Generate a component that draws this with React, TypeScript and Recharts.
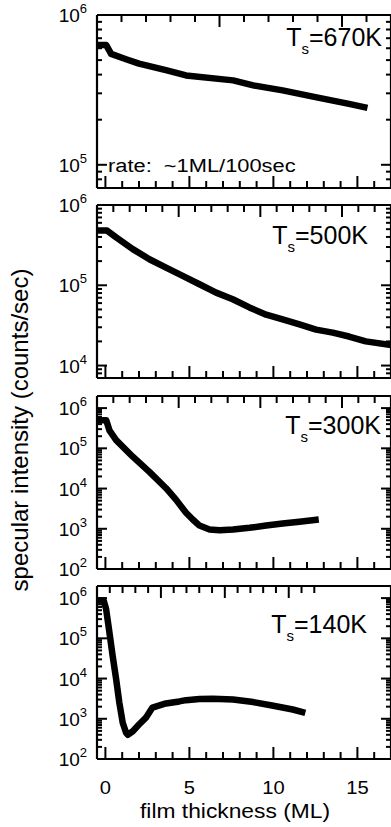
import React from "react";
import { LineChart, Line, XAxis, YAxis } from "recharts";

// film thickness (ML) and specular intensity (counts/sec)
const thk670 = [-0.5, 0.05, 0.34, 1.23, 2.0, 3.6, 4.8, 7.6, 8.8, 10.55, 12.5, 14.5, 15.6];
const int670 = [6.3e5, 6.3e5, 5.5e5, 5.07e5, 4.74e5, 4.28e5, 3.95e5, 3.66e5, 3.39e5, 3.14e5, 2.83e5, 2.55e5, 2.4e5];

const thk500 = [-0.5, 0.1, 0.64, 1.63, 2.62, 3.61, 4.6, 5.6, 6.59, 7.58, 8.57, 9.57, 10.55, 11.55, 12.54, 13.53, 14.5, 15.5, 17];
const int500 = [4.8e5, 4.8e5, 3.95e5, 2.82e5, 2.11e5, 1.66e5, 1.31e5, 1.03e5, 8.1e4, 6.7e4, 5.3e4, 4.3e4, 3.76e4, 3.25e4, 2.8e4, 2.57e4, 2.3e4, 2.0e4, 1.8e4];

const thk300 = [-0.5, 0.05, 0.24, 0.64, 1.63, 2.62, 3.61, 4.2, 4.8, 5.2, 5.6, 6.2, 6.8, 7.6, 8.57, 9.57, 10.55, 11.55, 12.7];
const int300 = [5e5, 5e5, 2.8e5, 1.6e5, 6.2e4, 2.6e4, 1.02e4, 5.3e3, 2.5e3, 1.7e3, 1.2e3, 960, 925, 960, 1.06e3, 1.2e3, 1.35e3, 1.5e3, 1.7e3];

const thk140 = [-0.5, -0.1, 0.04, 0.24, 0.43, 0.64, 0.83, 1.03, 1.23, 1.33, 1.63, 2.0, 2.4, 2.8, 3.6, 4.4, 4.8, 5.6, 6.4, 7.6, 8.8, 10, 11.15, 11.9];
const int140 = [8.7e5, 8.7e5, 5.4e5, 1.4e5, 3.7e4, 9.6e3, 2.5e3, 800, 450, 400, 490, 720, 1.05e3, 1.9e3, 2.4e3, 2.7e3, 2.9e3, 3.1e3, 3.15e3, 3.0e3, 2.6e3, 2.1e3, 1.7e3, 1.4e3];

const tempLabels = ["670K", "500K", "300K", "140K"];
const yDomains: [number, number][] = [[7e4, 1e6], [7e3, 1e6], [100, 2e6], [100, 2e6]];
const xTicks = [0, 1, 2, 3, 4, 5, 6, 7, 8, 9, 10, 11, 12, 13, 14, 15, 16, 17];
const xMajor = [0, 5, 10, 15];

const series = [
  [thk670, int670],
  [thk500, int500],
  [thk300, int300],
  [thk140, int140],
];

// layout
const FONT = "'Liberation Sans', Arial, Helvetica, sans-serif";
const PLOT_LEFT = 97;
const tops = [15, 205, 396, 586];
const bottoms = [188, 378, 569, 759];
const labelPos = [
  { x: 382, y: 46 },
  { x: 368, y: 244 },
  { x: 381, y: 434 },
  { x: 367, y: 633 },
];

function logTicks([lo, hi]: [number, number]) {
  const out: number[] = [];
  for (let d = Math.floor(Math.log10(lo)); d <= Math.ceil(Math.log10(hi)); d++) {
    for (let m = 1; m <= 9; m++) {
      const v = m * Math.pow(10, d);
      if (v >= lo && v <= hi) out.push(v);
    }
  }
  return out;
}

const isDecade = (v: number) => Math.abs(Math.log10(v) - Math.round(Math.log10(v))) < 1e-9;

function LeftTick(props: any) {
  const { y, payload } = props;
  const v = payload.value;
  const major = isDecade(v);
  return (
    <g>
      <line x1={PLOT_LEFT} x2={PLOT_LEFT + (major ? 10 : 5)} y1={y} y2={y} stroke="#000" strokeWidth={2} />
      {major && (
        <text x={PLOT_LEFT - 10} y={y + 7} textAnchor="end" fontSize={19} fontFamily={FONT} fill="#000">
          10
          <tspan dy={-9} fontSize={13}>
            {Math.round(Math.log10(v))}
          </tspan>
        </text>
      )}
    </g>
  );
}

function RightTick(props: any) {
  const { x, y, payload } = props;
  const major = isDecade(payload.value);
  return <line x1={x} x2={x - (major ? 10 : 5)} y1={y} y2={y} stroke="#000" strokeWidth={2} />;
}

function TopTick(props: any) {
  const { x, y, payload } = props;
  const major = xMajor.includes(payload.value);
  return <line x1={x} x2={x} y1={y} y2={y + (major ? 12 : 7)} stroke="#000" strokeWidth={2} />;
}

function BottomTick(props: any) {
  const { x, y, payload, showLabel } = props;
  const major = xMajor.includes(payload.value);
  return (
    <g>
      <line x1={x} x2={x} y1={y} y2={y - (major ? 12 : 7)} stroke="#000" strokeWidth={2} />
      {showLabel && major && (
        <text
          transform={`translate(${x},${y + 35}) scale(1.12,1)`}
          textAnchor="middle"
          fontSize={18}
          fontFamily={FONT}
          fill="#000"
        >
          {payload.value}
        </text>
      )}
    </g>
  );
}

function Panel({ i }: { i: number }) {
  const [thk, inten] = series[i];
  const data = thk.map((t, k) => ({ x: t, y: inten[k] }));
  const h = bottoms[i] - tops[i];
  const yTicks = logTicks(yDomains[i]);
  const last = i === 3;
  const frame = { stroke: "#000", strokeWidth: 2.2 };
  return (
    <div style={{ position: "absolute", left: 0, top: tops[i] - 15 }}>
      <LineChart width={392} height={h + 55} data={data} margin={{ top: 14, right: 0, bottom: 39, left: PLOT_LEFT - 1 }}>
        <XAxis
          xAxisId="b"
          dataKey="x"
          type="number"
          domain={[-0.5, 17]}
          ticks={xTicks}
          interval={0}
          height={1}
          tickSize={0}
          tickMargin={0}
          tickLine={false}
          axisLine={frame}
          tick={(p: any) => <BottomTick {...p} showLabel={last} />}
          allowDataOverflow
        />
        <XAxis
          xAxisId="t"
          orientation="top"
          type="number"
          domain={[-0.5, 17]}
          ticks={xTicks}
          interval={0}
          height={1}
          tickSize={0}
          tickMargin={0}
          tickLine={false}
          axisLine={frame}
          tick={TopTick}
          allowDataOverflow
        />
        <YAxis
          yAxisId="l"
          type="number"
          scale="log"
          domain={yDomains[i]}
          ticks={yTicks}
          interval={0}
          width={1}
          tickSize={0}
          tickMargin={0}
          tickLine={false}
          axisLine={frame}
          tick={LeftTick}
          allowDataOverflow
        />
        <YAxis
          yAxisId="r"
          orientation="right"
          type="number"
          scale="log"
          domain={yDomains[i]}
          ticks={yTicks}
          interval={0}
          width={1}
          tickSize={0}
          tickMargin={0}
          tickLine={false}
          axisLine={frame}
          tick={RightTick}
          allowDataOverflow
        />
        <Line
          xAxisId="b"
          yAxisId="l"
          dataKey="y"
          type="linear"
          stroke="#000"
          strokeWidth={6.5}
          strokeLinejoin="round"
          dot={false}
          isAnimationActive={false}
        />
      </LineChart>
    </div>
  );
}

export default function App() {
  return (
    <div
      style={{
        position: "absolute",
        left: 0,
        top: 0,
        width: 391,
        height: 827,
        overflow: "hidden",
        background: "#fff",
        fontFamily: FONT,
      }}
    >
      {[0, 1, 2, 3].map((i) => (
        <Panel key={i} i={i} />
      ))}
      <svg width={391} height={827} style={{ position: "absolute", left: 0, top: 0, pointerEvents: "none" }}>
        {tempLabels.map((t, i) => (
          <text key={t} x={labelPos[i].x} y={labelPos[i].y} textAnchor="end" fontSize={25} fontFamily={FONT} fill="#000">
            T
            <tspan dy={8} fontSize={15}>
              s
            </tspan>
            <tspan dy={-8}>={t}</tspan>
          </text>
        ))}
        <text
          transform="translate(108,172) scale(1.15,1)"
          fontSize={19}
          fontFamily={FONT}
          fill="#000"
          style={{ whiteSpace: "pre" }}
        >
          {"rate:  ~1ML/100sec"}
        </text>
        <text transform="translate(235,818) scale(1.14,1)" textAnchor="middle" fontSize={20} fontFamily={FONT} fill="#000">
          film thickness (ML)
        </text>
        <text transform="translate(28, 430) rotate(-90)" textAnchor="middle" fontSize={24} fontFamily={FONT} fill="#000">
          specular intensity (counts/sec)
        </text>
      </svg>
    </div>
  );
}
